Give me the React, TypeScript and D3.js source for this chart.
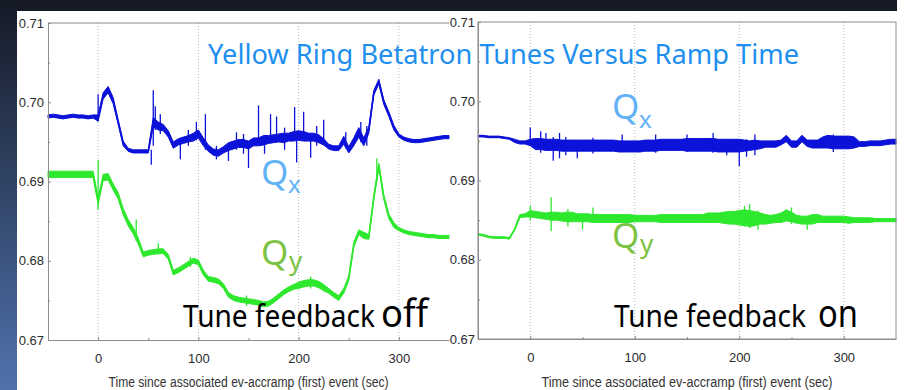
import * as d3 from 'd3';
import React, { useEffect, useRef } from 'react';

// sample times (sec), one every 5 s from -50 to 350
const TIMES = d3.range(-50, 351, 5);

const Y_TICKS = [0.67, 0.68, 0.69, 0.7, 0.71];
const Y_MINOR = [0.675, 0.685, 0.695, 0.705];
const X_TICKS = [0, 100, 200, 300];
const X_MINOR = [50, 150, 250];

// Tune feedback off: Qx (blue) centre values and noise half-width
const offQx = [
  0.6982, 0.6983, 0.6982, 0.6981, 0.6982, 0.6983, 0.6982, 0.6982, 0.6981, 0.6982,
  0.698, 0.7008, 0.7016, 0.7002, 0.6975, 0.6948, 0.694, 0.6938, 0.6938, 0.6938,
  0.6938, 0.6975, 0.697, 0.6968, 0.696, 0.6946, 0.695, 0.6952, 0.6954, 0.6956,
  0.696, 0.695, 0.6942, 0.6937, 0.6936, 0.694, 0.6944, 0.6946, 0.6948, 0.6948,
  0.6946, 0.695, 0.695, 0.6952, 0.6953, 0.6954, 0.6955, 0.6955, 0.6956, 0.6957,
  0.6958, 0.6957, 0.6956, 0.6956, 0.6954, 0.695, 0.6944, 0.6942, 0.6942, 0.6952,
  0.694, 0.695, 0.6962, 0.695, 0.6965, 0.7012, 0.7026, 0.7, 0.6985, 0.6968,
  0.6958, 0.6954, 0.6952, 0.6951, 0.6951, 0.6952, 0.6953, 0.6954, 0.6955, 0.6956,
  0.6956,
];
const offQxNoise = [
  0.0002, 0.0002, 0.0002, 0.0002, 0.0002, 0.0002, 0.0002, 0.0002, 0.0002, 0.0002,
  0.0004, 0.0004, 0.0004, 0.0004, 0.0003, 0.0003, 0.0002, 0.0002, 0.0002, 0.0002,
  0.0002, 0.0006, 0.0005, 0.0004, 0.0004, 0.0004, 0.0004, 0.0004, 0.0004, 0.0005,
  0.0005, 0.0005, 0.0004, 0.0004, 0.0004, 0.0004, 0.0005, 0.0005, 0.0005, 0.0005,
  0.0005, 0.0005, 0.0005, 0.0006, 0.0005, 0.0005, 0.0005, 0.0006, 0.0005, 0.0006,
  0.0006, 0.0006, 0.0005, 0.0005, 0.0005, 0.0004, 0.0003, 0.0003, 0.0003, 0.0005,
  0.0004, 0.0005, 0.0006, 0.0005, 0.0004, 0.0003, 0.0003, 0.0003, 0.0003, 0.0003,
  0.0002, 0.0002, 0.0002, 0.0002, 0.0002, 0.0002, 0.0002, 0.0002, 0.0002, 0.0002,
  0.0002,
];
// spikes: [time, low, high]
const offQxSpikes: [number, number, number][] = [
  [0, 0.6976, 0.701], [53, 0.6921, 0.694], [55, 0.6945, 0.7015], [57, 0.6965, 0.6995],
  [62, 0.696, 0.6985], [82, 0.6928, 0.6955], [90, 0.6945, 0.6965], [98, 0.6952, 0.6975],
  [107, 0.694, 0.6985], [118, 0.6928, 0.6945], [130, 0.6926, 0.6945], [138, 0.694, 0.6962],
  [145, 0.6935, 0.696], [150, 0.6917, 0.695], [160, 0.6948, 0.6996], [166, 0.6935, 0.6958],
  [172, 0.695, 0.6985], [178, 0.695, 0.6982], [186, 0.694, 0.6968], [196, 0.6952, 0.6994],
  [198, 0.6924, 0.6958], [205, 0.6955, 0.6988], [212, 0.693, 0.6955], [218, 0.6945, 0.697],
  [225, 0.6952, 0.6978], [247, 0.6942, 0.6962], [262, 0.695, 0.6975], [268, 0.6945, 0.697],
];

// Tune feedback off: Qy (green)
const offQy = [
  0.6909, 0.6909, 0.6909, 0.6909, 0.6909, 0.6909, 0.6909, 0.6909, 0.6909, 0.6909,
  0.6875, 0.6905, 0.6906, 0.6893, 0.6882, 0.6862, 0.6848, 0.6838, 0.6825, 0.6808,
  0.681, 0.6811, 0.6812, 0.6812, 0.6805, 0.6785, 0.6788, 0.6792, 0.6796, 0.68,
  0.6798, 0.6785, 0.6777, 0.6776, 0.6774, 0.6768, 0.6757, 0.6753, 0.6751, 0.675,
  0.6749, 0.6748, 0.6747, 0.6745, 0.6746, 0.675, 0.6755, 0.676, 0.6764, 0.6767,
  0.6769, 0.6771, 0.6772, 0.6772, 0.677, 0.6766, 0.6762, 0.6757, 0.6753, 0.6762,
  0.6778, 0.682, 0.6836, 0.6832, 0.683, 0.688, 0.692, 0.688, 0.6856, 0.6845,
  0.684, 0.6837, 0.6835, 0.6834, 0.6833, 0.6832, 0.6831, 0.6831, 0.683, 0.683,
  0.683,
];
const offQyNoise = [
  0.0004, 0.0004, 0.0004, 0.0004, 0.0004, 0.0004, 0.0004, 0.0004, 0.0004, 0.0004,
  0.0004, 0.0004, 0.0004, 0.0004, 0.0004, 0.0004, 0.0004, 0.0004, 0.0004, 0.0003,
  0.0003, 0.0003, 0.0003, 0.0003, 0.0003, 0.0003, 0.0003, 0.0003, 0.0003, 0.0003,
  0.0003, 0.0003, 0.0003, 0.0003, 0.0003, 0.0003, 0.0003, 0.0003, 0.0003, 0.0003,
  0.0003, 0.0003, 0.0003, 0.0003, 0.0003, 0.0003, 0.0003, 0.0003, 0.0003, 0.0003,
  0.0004, 0.0004, 0.0004, 0.0004, 0.0004, 0.0004, 0.0003, 0.0003, 0.0003, 0.0003,
  0.0003, 0.0003, 0.0003, 0.0004, 0.0003, 0.0003, 0.0003, 0.0003, 0.0003, 0.0003,
  0.0002, 0.0002, 0.0002, 0.0002, 0.0002, 0.0002, 0.0002, 0.0002, 0.0002, 0.0002,
  0.0002,
];
const offQySpikes: [number, number, number][] = [
  [0, 0.6864, 0.6927], [38, 0.6825, 0.6852], [60, 0.6808, 0.6822], [92, 0.6792, 0.6805],
  [148, 0.6743, 0.6756], [212, 0.6765, 0.678], [278, 0.69, 0.6929],
];

// Tune feedback on: Qx (blue)
const onQx = [
  0.6956, 0.6956, 0.6955, 0.6955, 0.6955, 0.6954, 0.6953, 0.695, 0.6948, 0.6948,
  0.6948, 0.6946, 0.6946, 0.6945, 0.6945, 0.6945, 0.6944, 0.6944, 0.6944, 0.6944,
  0.6944, 0.6944, 0.6944, 0.6944, 0.6944, 0.6944, 0.6944, 0.6943, 0.6943, 0.6943,
  0.6943, 0.6943, 0.6944, 0.6944, 0.6944, 0.6945, 0.6945, 0.6945, 0.6945, 0.6945,
  0.6945, 0.6945, 0.6945, 0.6945, 0.6945, 0.6945, 0.6944, 0.6944, 0.6944, 0.6944,
  0.6944, 0.6944, 0.6944, 0.6945, 0.6945, 0.6946, 0.6946, 0.6946, 0.6948, 0.6953,
  0.6946, 0.6946, 0.6953, 0.6947, 0.6946, 0.6946, 0.6948, 0.6949, 0.6948, 0.6948,
  0.6948, 0.6948, 0.6948, 0.6946, 0.6946, 0.6947, 0.6947, 0.6947, 0.6948, 0.6949,
  0.6949,
];
const onQxNoise = [
  0.0001, 0.0001, 0.0001, 0.0001, 0.0001, 0.0001, 0.0001, 0.0002, 0.0002, 0.0002,
  0.0004, 0.0007, 0.0007, 0.0007, 0.0007, 0.0007, 0.0007, 0.0007, 0.0007, 0.0007,
  0.0007, 0.0007, 0.0007, 0.0007, 0.0007, 0.0007, 0.0007, 0.0007, 0.0007, 0.0007,
  0.0007, 0.0007, 0.0007, 0.0007, 0.0007, 0.0007, 0.0007, 0.0007, 0.0007, 0.0007,
  0.0008, 0.0008, 0.0008, 0.0008, 0.0008, 0.0008, 0.0008, 0.0008, 0.0008, 0.0008,
  0.0008, 0.0007, 0.0006, 0.0006, 0.0005, 0.0004, 0.0004, 0.0004, 0.0003, 0.0004,
  0.0004, 0.0004, 0.0004, 0.0004, 0.0005, 0.0005, 0.0007, 0.0008, 0.0008, 0.0008,
  0.0008, 0.0008, 0.0007, 0.0003, 0.0003, 0.0003, 0.0003, 0.0003, 0.0003, 0.0003,
  0.0003,
];
const onQxSpikes: [number, number, number][] = [
  [0, 0.6944, 0.6967], [10, 0.6935, 0.6962], [15, 0.6938, 0.696], [22, 0.6925, 0.6955],
  [28, 0.6928, 0.696], [34, 0.6932, 0.6955], [45, 0.6928, 0.695], [60, 0.6934, 0.6954],
  [88, 0.6936, 0.6958], [120, 0.6935, 0.6958], [150, 0.6936, 0.6958], [175, 0.6935, 0.696],
  [188, 0.6932, 0.6952], [200, 0.6918, 0.6945], [207, 0.693, 0.6952], [215, 0.6932, 0.6958],
  [290, 0.6936, 0.6958],
];

// Tune feedback on: Qy (green)
const onQy = [
  0.6832, 0.6831, 0.6829, 0.6828, 0.6828, 0.6828, 0.6827, 0.6838, 0.6855, 0.6856,
  0.6858, 0.6857, 0.6856, 0.6855, 0.6855, 0.6855, 0.6854, 0.6854, 0.6854, 0.6853,
  0.6853, 0.6853, 0.6852, 0.6852, 0.6852, 0.6852, 0.6852, 0.6852, 0.6852, 0.6852,
  0.6852, 0.6852, 0.6852, 0.6852, 0.6852, 0.6852, 0.6852, 0.6852, 0.6852, 0.6852,
  0.6852, 0.6852, 0.6852, 0.6852, 0.6853, 0.6853, 0.6853, 0.6853, 0.6853, 0.6853,
  0.6853, 0.6853, 0.6852, 0.6852, 0.6852, 0.6851, 0.6851, 0.6852, 0.6853, 0.6856,
  0.6854, 0.6851, 0.685, 0.685, 0.6851, 0.6852, 0.6851, 0.6851, 0.6851, 0.6851,
  0.6851, 0.685, 0.685, 0.685, 0.685, 0.685, 0.685, 0.685, 0.685, 0.685,
  0.685,
];
const onQyNoise = [
  0.0001, 0.0001, 0.0001, 0.0001, 0.0001, 0.0001, 0.0001, 0.0001, 0.0002, 0.0002,
  0.0004, 0.0004, 0.0004, 0.0004, 0.0005, 0.0005, 0.0005, 0.0006, 0.0006, 0.0005,
  0.0005, 0.0005, 0.0005, 0.0005, 0.0005, 0.0005, 0.0005, 0.0005, 0.0005, 0.0005,
  0.0004, 0.0004, 0.0004, 0.0004, 0.0004, 0.0005, 0.0005, 0.0005, 0.0005, 0.0005,
  0.0005, 0.0005, 0.0005, 0.0005, 0.0006, 0.0006, 0.0006, 0.0007, 0.0008, 0.0008,
  0.0009, 0.001, 0.001, 0.0009, 0.0007, 0.0006, 0.0005, 0.0005, 0.0006, 0.0007,
  0.0006, 0.0005, 0.0005, 0.0005, 0.0006, 0.0005, 0.0004, 0.0004, 0.0004, 0.0004,
  0.0004, 0.0004, 0.0003, 0.0003, 0.0003, 0.0003, 0.0002, 0.0002, 0.0002, 0.0002,
  0.0002,
];
const onQySpikes: [number, number, number][] = [
  [0, 0.685, 0.6868], [20, 0.6836, 0.6879], [36, 0.6842, 0.6864], [50, 0.6838, 0.6855],
  [60, 0.6848, 0.6866], [205, 0.6842, 0.6868], [210, 0.684, 0.687], [218, 0.6838, 0.6862],
  [250, 0.6845, 0.6866], [265, 0.6838, 0.6855],
];

const BLUE = '#0c12d8';
const GREEN = '#2ee82e';
const AXIS_GREY = '#8c8c8c';
const TICK_FONT = '"Liberation Sans Narrow", "Liberation Sans", Arial, sans-serif';
const SLIDE_FONT = '"Noto Sans", "Open Sans", sans-serif';

type Sel = d3.Selection<SVGSVGElement, unknown, null, undefined>;
type Series = { mid: number[]; noise: number[]; spikes: [number, number, number][]; color: string };

function drawPanel(
  root: Sel,
  box: { left: number; right: number; top: number; bottom: number; pad: number; frame: boolean; titleLen: number },
  series: Series[]
) {
  const x = d3.scaleLinear().domain([-50, 350]).range([box.left, box.right]);
  const y = d3.scaleLinear().domain([0.67, 0.71]).range([box.bottom, box.top]);
  const g = root.append('g');

  // dotted vertical grid
  g.selectAll('.grid')
    .data(X_TICKS)
    .enter()
    .append('line')
    .attr('x1', d => x(d))
    .attr('x2', d => x(d))
    .attr('y1', box.top)
    .attr('y2', box.bottom)
    .attr('stroke', '#b4b4b4')
    .attr('stroke-width', 1)
    .attr('stroke-dasharray', '1,2');

  series.forEach(s => {
    const pts = TIMES.map((t, i) => ({ t, v: s.mid[i], a: s.noise[i] }));
    // noise band
    g.append('path')
      .datum(pts)
      .attr('fill', s.color)
      .attr('stroke', s.color)
      .attr('stroke-width', 1)
      .attr(
        'd',
        d3
          .area<{ t: number; v: number; a: number }>()
          .x(d => x(d.t))
          .y0(d => y(d.v - d.a))
          .y1(d => y(d.v + d.a))
      );
    g.append('path')
      .datum(pts)
      .attr('fill', 'none')
      .attr('stroke', s.color)
      .attr('stroke-width', 1.5)
      .attr(
        'd',
        d3
          .line<{ t: number; v: number; a: number }>()
          .x(d => x(d.t))
          .y(d => y(d.v))
      );
    g.selectAll(null)
      .data(s.spikes)
      .enter()
      .append('line')
      .attr('x1', d => x(d[0]))
      .attr('x2', d => x(d[0]))
      .attr('y1', d => y(d[1]))
      .attr('y2', d => y(d[2]))
      .attr('stroke', s.color)
      .attr('stroke-width', 1.3);
  });

  // axes
  const yAxis = g
    .append('g')
    .attr('transform', `translate(${box.left},0)`)
    .call(
      d3
        .axisLeft(y)
        .tickValues(Y_TICKS)
        .tickSizeInner(-3)
        .tickSizeOuter(0)
        .tickPadding(box.pad)
        .tickFormat(d3.format('.2f'))
    );
  g.append('g')
    .attr('transform', `translate(${box.left},0)`)
    .call(d3.axisLeft(y).tickValues(Y_MINOR).tickSize(-2).tickFormat(() => ''))
    .select('.domain')
    .remove();
  const xAxis = g
    .append('g')
    .attr('transform', `translate(0,${box.bottom})`)
    .call(d3.axisBottom(x).tickValues(X_TICKS).tickSizeInner(-3).tickSizeOuter(0).tickPadding(14));
  g.append('g')
    .attr('transform', `translate(0,${box.bottom})`)
    .call(d3.axisBottom(x).tickValues(X_MINOR).tickSize(-2).tickFormat(() => ''))
    .select('.domain')
    .remove();

  g.selectAll('.domain, .tick line').attr('stroke', AXIS_GREY);
  [yAxis, xAxis].forEach(a =>
    a.selectAll('text').attr('font-family', TICK_FONT).attr('font-size', 13).attr('fill', '#2a2a2a')
  );

  if (box.frame) {
    g.append('rect')
      .attr('x', box.left)
      .attr('y', box.top)
      .attr('width', box.right - box.left)
      .attr('height', box.bottom - box.top)
      .attr('fill', 'none')
      .attr('stroke', AXIS_GREY);
  } else {
    g.append('line')
      .attr('x1', box.left)
      .attr('x2', box.right)
      .attr('y1', box.top)
      .attr('y2', box.top)
      .attr('stroke', AXIS_GREY);
  }

  g.append('text')
    .attr('x', (box.left + box.right) / 2)
    .attr('y', 387)
    .attr('text-anchor', 'middle')
    .attr('font-family', TICK_FONT)
    .attr('font-size', 14)
    .attr('fill', '#333')
    .attr('textLength', box.titleLen)
    .attr('lengthAdjust', 'spacingAndGlyphs')
    .text('Time since associated ev-accramp (first) event (sec)');
}

function label(root: Sel, x: number, y: number, size: number, color: string, text: string, len?: number) {
  const t = root
    .append('text')
    .attr('x', x)
    .attr('y', y)
    .attr('font-family', SLIDE_FONT)
    .attr('font-size', size)
    .attr('fill', color)
    .text(text);
  if (len) t.attr('textLength', len).attr('lengthAdjust', 'spacingAndGlyphs');
}

// text squeezed horizontally to a given width, via a transform so its box stays true
function fitted(root: Sel, x: number, y: number, size: number, width: number, text: string) {
  const t = root
    .append('text')
    .attr('font-family', SLIDE_FONT)
    .attr('font-size', size)
    .attr('fill', '#000')
    .text(text);
  const natural = (t.node() as SVGTextElement).getComputedTextLength() || width;
  t.attr('transform', `translate(${x},${y}) scale(${width / natural},1)`);
}

export default function App() {
  const ref = useRef<SVGSVGElement>(null);

  useEffect(() => {
    if (!ref.current) return;
    const svg = d3.select(ref.current);
    svg.selectAll('*').remove();

    const width = 906;
    const height = 390;

    // slide background
    const grad = svg
      .append('defs')
      .append('linearGradient')
      .attr('id', 'side')
      .attr('x1', 0)
      .attr('x2', 0)
      .attr('y1', 0)
      .attr('y2', 1);
    grad.append('stop').attr('offset', '0%').attr('stop-color', '#151a26');
    grad.append('stop').attr('offset', '100%').attr('stop-color', '#5072ad');
    svg.append('rect').attr('width', width).attr('height', height).attr('fill', '#fff');
    svg.append('rect').attr('width', 897).attr('height', 11).attr('fill', '#161b27');
    svg.append('rect').attr('width', 17).attr('height', height).attr('fill', 'url(#side)');

    drawPanel(svg, { left: 48, right: 449, top: 23, bottom: 340, pad: 4, frame: false, titleLen: 280 }, [
      { mid: offQx, noise: offQxNoise, spikes: offQxSpikes, color: BLUE },
      { mid: offQy, noise: offQyNoise, spikes: offQySpikes, color: GREEN },
    ]);
    drawPanel(svg, { left: 478, right: 896, top: 22, bottom: 339, pad: 3, frame: true, titleLen: 291 }, [
      { mid: onQx, noise: onQxNoise, spikes: onQxSpikes, color: BLUE },
      { mid: onQy, noise: onQyNoise, spikes: onQySpikes, color: GREEN },
    ]);

    // slide annotations
    label(svg, 208, 64, 27, '#1e8fee', 'Yellow Ring Betatron Tunes Versus Ramp Time', 591);
    label(svg, 261, 185, 35, '#62b2f6', 'Q');
    label(svg, 288, 193, 24, '#62b2f6', 'x');
    label(svg, 612, 119, 35, '#62b2f6', 'Q');
    label(svg, 639, 128, 24, '#62b2f6', 'x');
    label(svg, 261, 265, 35, '#7cc243', 'Q');
    label(svg, 289, 270, 26, '#7cc243', 'y');
    label(svg, 612, 248, 35, '#7cc243', 'Q');
    label(svg, 640, 253, 26, '#7cc243', 'y');
    fitted(svg, 183, 327, 31, 192, 'Tune feedback');
    fitted(svg, 381, 327, 39, 47, 'off');
    fitted(svg, 614, 327, 31, 192, 'Tune feedback');
    fitted(svg, 818, 327, 39, 40, 'on');
  }, []);

  return (
    <svg
      ref={ref}
      width={906}
      height={390}
      style={{ position: 'absolute', left: 0, top: 0, display: 'block' }}
    />
  );
}
